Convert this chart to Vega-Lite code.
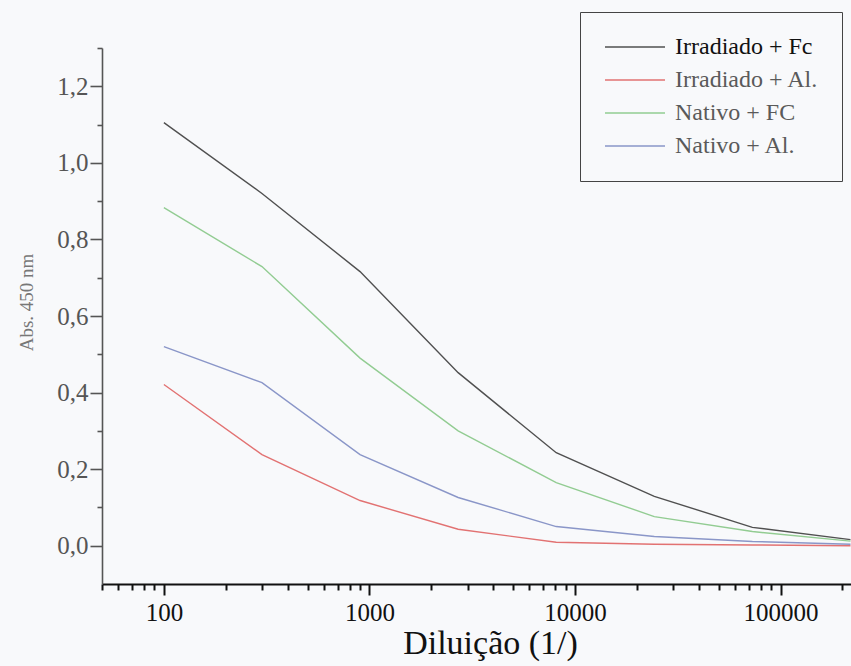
{
  "$schema": "https://vega.github.io/schema/vega-lite/v6.json",
  "width": 749,
  "height": 536,
  "autosize": {"type": "none"},
  "padding": {"left": 102, "top": 48, "right": 0, "bottom": 82},
  "background": "#f8f9fb",
  "config": {
    "font": "Liberation Serif",
    "view": {"stroke": null},
    "axis": {"grid": false}
  },
  "data": {
    "values": [
      {"d": 100, "a": 1.105, "s": "Irradiado + Fc"},
      {"d": 300, "a": 0.92, "s": "Irradiado + Fc"},
      {"d": 900, "a": 0.716, "s": "Irradiado + Fc"},
      {"d": 2700, "a": 0.452, "s": "Irradiado + Fc"},
      {"d": 8100, "a": 0.243, "s": "Irradiado + Fc"},
      {"d": 24300, "a": 0.129, "s": "Irradiado + Fc"},
      {"d": 72900, "a": 0.048, "s": "Irradiado + Fc"},
      {"d": 218700, "a": 0.016, "s": "Irradiado + Fc"},
      {"d": 100, "a": 0.421, "s": "Irradiado + Al."},
      {"d": 300, "a": 0.238, "s": "Irradiado + Al."},
      {"d": 900, "a": 0.118, "s": "Irradiado + Al."},
      {"d": 2700, "a": 0.043, "s": "Irradiado + Al."},
      {"d": 8100, "a": 0.009, "s": "Irradiado + Al."},
      {"d": 24300, "a": 0.004, "s": "Irradiado + Al."},
      {"d": 72900, "a": 0.002, "s": "Irradiado + Al."},
      {"d": 218700, "a": 0.0, "s": "Irradiado + Al."},
      {"d": 100, "a": 0.883, "s": "Nativo + FC"},
      {"d": 300, "a": 0.729, "s": "Nativo + FC"},
      {"d": 900, "a": 0.49, "s": "Nativo + FC"},
      {"d": 2700, "a": 0.30, "s": "Nativo + FC"},
      {"d": 8100, "a": 0.165, "s": "Nativo + FC"},
      {"d": 24300, "a": 0.076, "s": "Nativo + FC"},
      {"d": 72900, "a": 0.037, "s": "Nativo + FC"},
      {"d": 218700, "a": 0.012, "s": "Nativo + FC"},
      {"d": 100, "a": 0.52, "s": "Nativo + Al."},
      {"d": 300, "a": 0.426, "s": "Nativo + Al."},
      {"d": 900, "a": 0.238, "s": "Nativo + Al."},
      {"d": 2700, "a": 0.126, "s": "Nativo + Al."},
      {"d": 8100, "a": 0.05, "s": "Nativo + Al."},
      {"d": 24300, "a": 0.024, "s": "Nativo + Al."},
      {"d": 72900, "a": 0.011, "s": "Nativo + Al."},
      {"d": 218700, "a": 0.004, "s": "Nativo + Al."}
    ]
  },
  "resolve": {"axis": {"x": "independent", "y": "independent"}},
  "layer": [
    {
      "mark": {"type": "line", "strokeWidth": 1.4},
      "encoding": {
        "x": {
          "field": "d",
          "type": "quantitative",
          "scale": {"type": "log", "domain": [50, 220000], "nice": false},
          "axis": {
            "orient": "bottom",
            "values": [100, 1000, 10000, 100000],
            "format": "d",
            "domainColor": "#111",
            "domainWidth": 2,
            "tickColor": "#111",
            "tickWidth": 2,
            "tickSize": 11,
            "labelFontSize": 25,
            "labelColor": "#111",
            "labelPadding": 5,
            "labelFlush": false,
            "labelOverlap": false,
            "title": "Diluição (1/)",
            "titleFontSize": 34,
            "titleFontWeight": "normal",
            "titleColor": "#111",
            "titleX": 388,
            "titleY": 42
          }
        },
        "y": {
          "field": "a",
          "type": "quantitative",
          "scale": {"domain": [-0.1, 1.3], "nice": false, "zero": false},
          "axis": {
            "orient": "left",
            "values": [0, 0.2, 0.4, 0.6, 0.8, 1.0, 1.2],
            "labelExpr": "replace(format(datum.value, '.1f'), '.', ',')",
            "domainColor": "#555",
            "domainWidth": 1.6,
            "tickColor": "#555",
            "tickWidth": 1.6,
            "tickSize": 12,
            "labelFontSize": 25,
            "labelColor": "#555",
            "labelPadding": 2,
            "title": "Abs. 450 nm",
            "titleFontSize": 19,
            "titleFontWeight": "normal",
            "titleColor": "#777",
            "titleX": -66,
            "titleY": 254
          }
        },
        "color": {
          "field": "s",
          "type": "nominal",
          "scale": {
            "domain": ["Irradiado + Fc", "Irradiado + Al.", "Nativo + FC", "Nativo + Al."],
            "range": ["#505050", "#e27272", "#92cc92", "#8a96c8"]
          },
          "legend": {
            "title": null,
            "orient": "none",
            "legendX": 478,
            "legendY": -36,
            "padding": 23,
            "strokeColor": "#444",
            "fillColor": "#f8f9fb",
            "symbolType": "M-1,0H5",
            "symbolSize": 400,
            "symbolStrokeWidth": 1.5,
            "labelFontSize": 24,
            "labelFont": "Liberation Serif",
            "labelColor": "#5a5a5a",
            "labelOffset": 48,
            "rowPadding": 9,
            "encode": {
              "labels": {
                "update": {
                  "fill": {"signal": "datum.label == 'Irradiado + Fc' ? '#111' : '#5a5a5a'"}
                }
              }
            }
          }
        }
      }
    },
    {
      "mark": {"type": "point", "opacity": 0},
      "encoding": {
        "x": {
          "field": "d",
          "type": "quantitative",
          "axis": {
            "orient": "bottom",
            "values": [50, 60, 70, 80, 90, 200, 300, 400, 500, 600, 700, 800, 900, 2000, 3000, 4000, 5000, 6000, 7000, 8000, 9000, 20000, 30000, 40000, 50000, 60000, 70000, 80000, 90000, 200000],
            "labels": false,
            "domain": false,
            "tickColor": "#111",
            "tickWidth": 2,
            "tickSize": 6,
            "title": null
          }
        },
        "y": {
          "field": "a",
          "type": "quantitative",
          "axis": {
            "orient": "left",
            "values": [0.1, 0.3, 0.5, 0.7, 0.9, 1.1, 1.3],
            "labels": false,
            "domain": false,
            "tickColor": "#555",
            "tickWidth": 1.6,
            "tickSize": 5,
            "title": null
          }
        }
      }
    }
  ]
}
